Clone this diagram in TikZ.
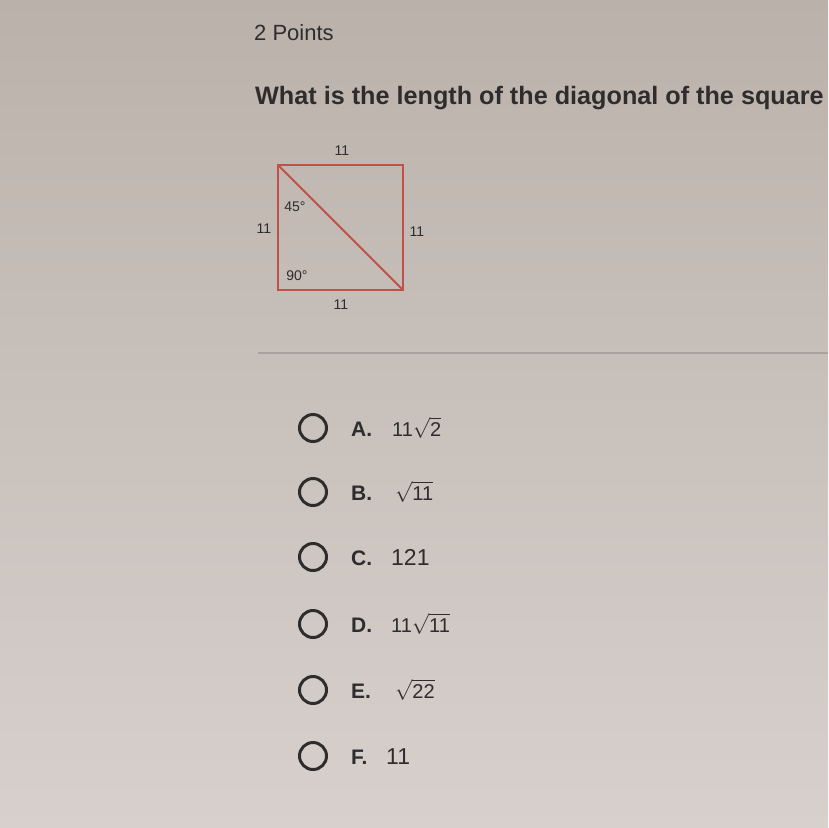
\documentclass[tikz,border=0pt]{standalone}
\usepackage{fontspec}
\setmainfont{Liberation Sans}
\begin{document}
\begin{tikzpicture}[x=1pt,y=-1pt,
  txt/.style={anchor=base west,inner sep=0pt,text=textgray},
  small/.style={inner sep=0pt,text=textgray,font=\fontsize{14}{14}\selectfont},
  radio/.style={circle,draw=textgray,line width=3pt,minimum size=27pt,inner sep=0pt},
  letter/.style={anchor=base west,inner sep=0pt,text=textgray,font=\fontsize{21}{21}\selectfont\bfseries},
  answer/.style={anchor=base west,inner sep=0pt,text=textgray,font=\fontsize{23}{23}\selectfont},
  rootans/.style={anchor=base west,inner sep=0pt,text=textgray,font=\fontsize{20}{20}\selectfont},
  redline/.style={draw=sqred,line width=2pt}]
\definecolor{textgray}{HTML}{2E2C2C}
\definecolor{sqred}{HTML}{C0504A}
\definecolor{bgtop}{HTML}{BAB2AA}
\definecolor{bgbot}{HTML}{D8D0CD}
\definecolor{sepline}{HTML}{A9A3A0}
\useasboundingbox (0,0) rectangle (828,828);
\shade[top color=bgtop,bottom color=bgbot] (0,0) rectangle (828,828);
% header
\node[txt,font=\fontsize{22}{22}\selectfont] (pts) at (254,40) {2 Points};
\node[txt,font=\fontsize{25.2}{25.2}\selectfont\bfseries] (q) at (255,104) {What is the length of the diagonal of the square};
% square
\coordinate (tl) at (278,165);
\coordinate (tr) at (403,165);
\coordinate (br) at (403,290);
\coordinate (bl) at (278,290);
\draw[redline] (tl) -- (tr) -- (br) -- (bl) -- cycle;
\draw[redline] (tl) -- (br);
\node[small] (ltop) at (342,151) {11};
\node[small] (lleft) at (264,229) {11};
\node[small] (lright) at (417,232) {11};
\node[small] (lbot) at (341,305) {11};
\node[small] (a45) at (295,207) {45°};
\node[small] (a90) at (297,276) {90°};
% separator
\draw[sepline,line width=1.2pt] (258,353) -- (828,353);
% options
\foreach \n/\y/\l in {a/428/A.,b/492/B.,c/557/C.,d/624/D.,e/690/E.,f/756/F.}{
  \node[radio] (r\n) at (313,\y) {};
  \node[letter] (l\n) at (351,\y+8) {\l};
}
\node[rootans] (ansa) at (392,436) {11$\sqrt{\mbox{2}}$};
\node[rootans] (ansb) at (395,500) {$\sqrt{\mbox{11}}$};
\node[answer] (ansc) at (391,565) {121};
\node[rootans] (ansd) at (391,632) {11$\sqrt{\mbox{11}}$};
\node[rootans] (anse) at (395,698) {$\sqrt{\mbox{22}}$};
\node[answer] (ansf) at (386,764) {11};
\end{tikzpicture}
\end{document}
